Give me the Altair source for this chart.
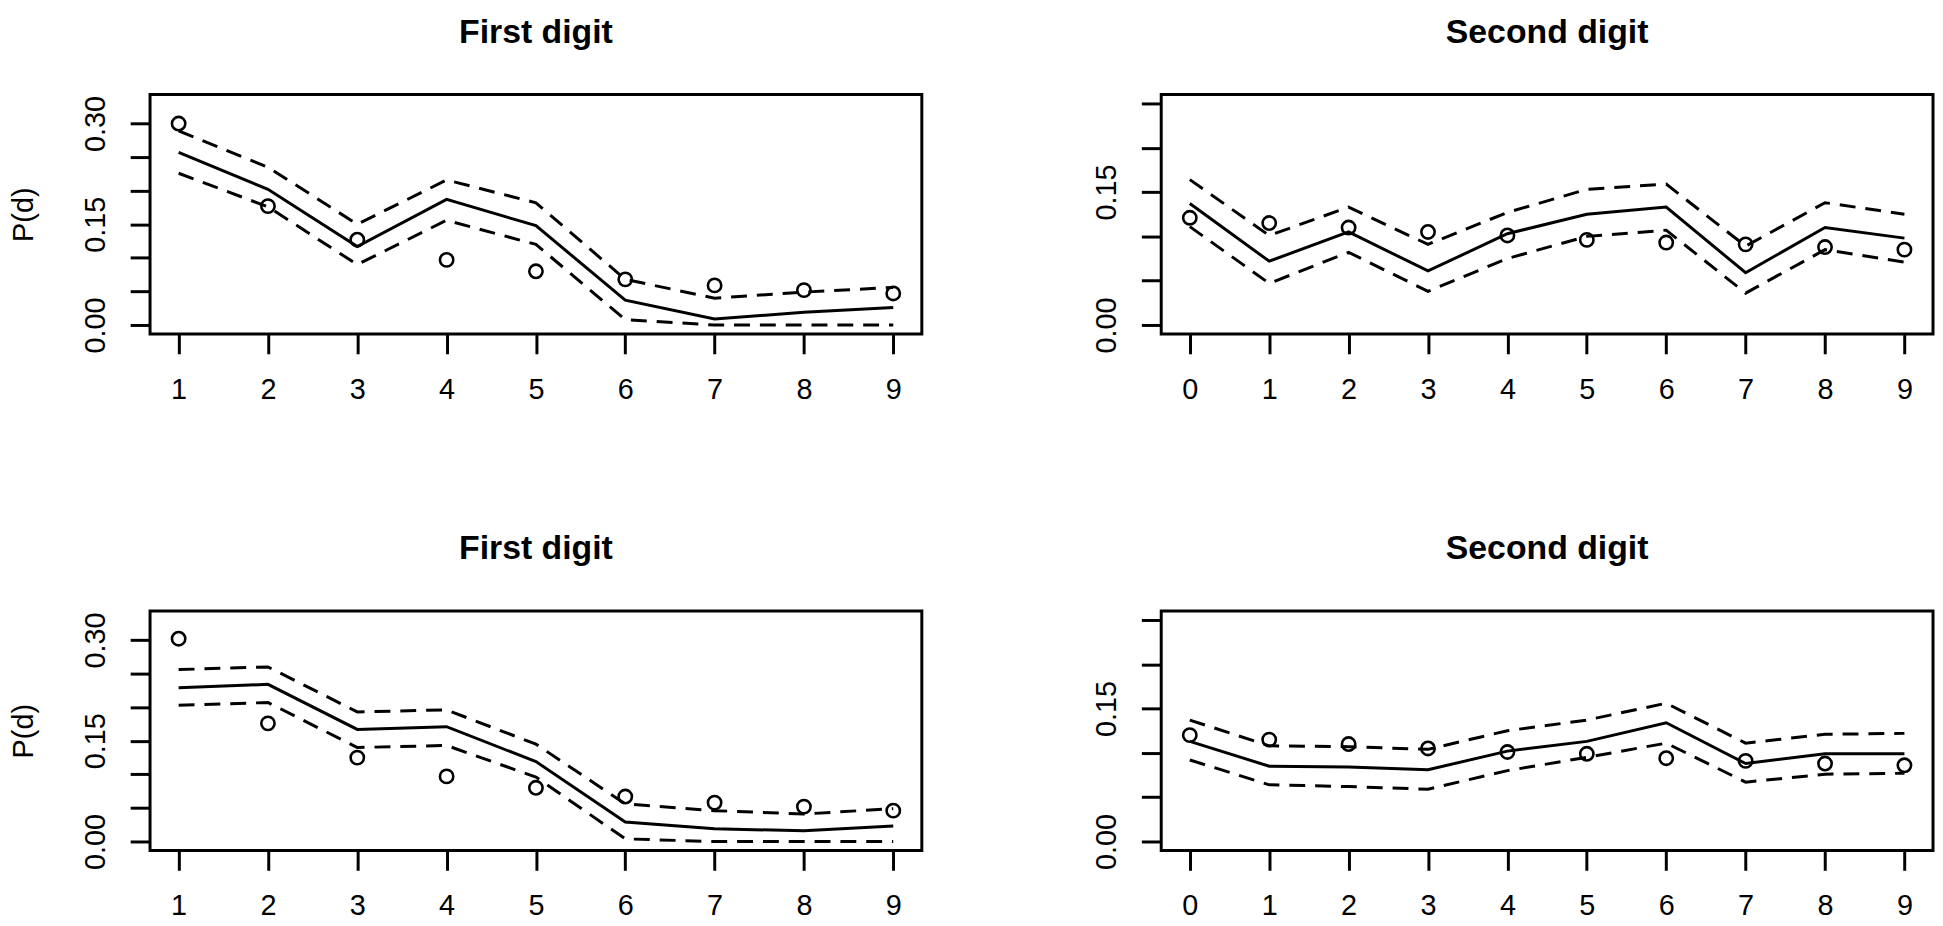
import altair as alt
import pandas as pd

first_digits = [1, 2, 3, 4, 5, 6, 7, 8, 9]
second_digits = [0, 1, 2, 3, 4, 5, 6, 7, 8, 9]

# Top-left: First digit
a_obs = [0.300, 0.177, 0.127, 0.097, 0.080, 0.068, 0.059, 0.052, 0.047]
a_mid = [0.257, 0.202, 0.117, 0.187, 0.148, 0.037, 0.009, 0.019, 0.026]
a_up = [0.289, 0.235, 0.150, 0.216, 0.182, 0.068, 0.040, 0.049, 0.056]
a_lo = [0.226, 0.176, 0.090, 0.156, 0.120, 0.008, 0.000, 0.000, 0.000]

# Top-right: Second digit
b_obs = [0.121, 0.115, 0.110, 0.105, 0.101, 0.096, 0.093, 0.091, 0.088, 0.085]
b_mid = [0.137, 0.072, 0.105, 0.061, 0.103, 0.125, 0.133, 0.059, 0.110, 0.098]
b_up = [0.164, 0.101, 0.133, 0.091, 0.127, 0.153, 0.159, 0.089, 0.138, 0.125]
b_lo = [0.111, 0.047, 0.082, 0.038, 0.075, 0.100, 0.107, 0.036, 0.085, 0.071]

# Bottom-left: First digit
c_obs = [0.302, 0.176, 0.125, 0.097, 0.080, 0.067, 0.058, 0.052, 0.046]
c_mid = [0.229, 0.234, 0.167, 0.171, 0.119, 0.029, 0.019, 0.016, 0.023]
c_up = [0.256, 0.260, 0.193, 0.196, 0.145, 0.056, 0.046, 0.041, 0.049]
c_lo = [0.203, 0.207, 0.140, 0.143, 0.096, 0.004, 0.000, 0.000, 0.000]

# Bottom-right: Second digit
d_obs = [0.120, 0.115, 0.110, 0.105, 0.101, 0.099, 0.094, 0.091, 0.088, 0.086]
d_mid = [0.113, 0.085, 0.084, 0.081, 0.102, 0.113, 0.134, 0.088, 0.099, 0.099]
d_up = [0.137, 0.108, 0.107, 0.104, 0.125, 0.137, 0.156, 0.111, 0.121, 0.122]
d_lo = [0.092, 0.064, 0.062, 0.059, 0.080, 0.095, 0.111, 0.067, 0.076, 0.077]

titles = ["First digit", "Second digit", "First digit", "Second digit"]
first_yticks = [0.0, 0.05, 0.10, 0.15, 0.20, 0.25, 0.30]
second_yticks = [0.0, 0.05, 0.10, 0.15, 0.20, 0.25]

PW, PH = 777, 241
FONT = "Liberation Sans"
LW = 3.0
DASH = [16, 10]

label_expr = ("(abs(datum.value) < 1e-9 || abs(datum.value - 0.15) < 1e-9 || "
              "abs(datum.value - 0.3) < 1e-9) ? format(datum.value, '.2f') : ''")


def panel(digits, obs, mid, up, lo, title, xdom, ydom, yticks, ytitle):
    df = pd.DataFrame({"d": digits, "obs": obs, "mid": mid, "up": up, "lo": lo})
    xenc = alt.X(
        "d:Q",
        scale=alt.Scale(domain=xdom, nice=False, zero=False),
        axis=alt.Axis(values=digits, format="d", labelBaseline="top",
                      labelAlign="center", labelPadding=22),
        title=None,
    )
    yaxis_kwargs = dict(values=yticks, labelExpr=label_expr, labelAngle=270,
                        labelAlign="center", labelBaseline="bottom",
                        labelPadding=20)
    if ytitle:
        yaxis_kwargs.update(titleAngle=270, titleX=-127, titleY=PH / 2,
                            titleAlign="center", titleBaseline="middle",
                            titleFontSize=29, titleFontWeight="normal",
                            titleFont=FONT, titleColor="black")

    def yenc(field):
        return alt.Y(
            f"{field}:Q",
            scale=alt.Scale(domain=ydom, nice=False, zero=False),
            axis=alt.Axis(**yaxis_kwargs),
            title=ytitle if ytitle else None,
        )

    base = alt.Chart(df)
    mid_line = base.mark_line(color="black", strokeWidth=LW).encode(x=xenc, y=yenc("mid"))
    up_line = base.mark_line(color="black", strokeWidth=LW, strokeDash=DASH).encode(x=xenc, y=yenc("up"))
    lo_line = base.mark_line(color="black", strokeWidth=LW, strokeDash=DASH).encode(x=xenc, y=yenc("lo"))
    pts = base.mark_point(shape="circle", filled=False, color="black", size=180,
                          strokeWidth=2.6, opacity=1).encode(x=xenc, y=yenc("obs"))
    return alt.layer(mid_line, up_line, lo_line, pts).properties(
        width=PW, height=PH,
        title=alt.TitleParams(text=title, font=FONT, fontSize=34, fontWeight="bold",
                              anchor="middle", baseline="alphabetic", offset=18,
                              color="black"),
    )


first_xdom = [0.68, 9.32]
second_xdom = [-0.36, 9.36]
first_ydom = [-0.0132, 0.3432]
second_ydom = [-0.01, 0.26]

p1 = panel(first_digits, a_obs, a_mid, a_up, a_lo, titles[0], first_xdom, first_ydom, first_yticks, "P(d)")
p2 = panel(second_digits, b_obs, b_mid, b_up, b_lo, titles[1], second_xdom, second_ydom, second_yticks, None)
p3 = panel(first_digits, c_obs, c_mid, c_up, c_lo, titles[2], first_xdom, first_ydom, first_yticks, "P(d)")
p4 = panel(second_digits, d_obs, d_mid, d_up, d_lo, titles[3], second_xdom, second_ydom, second_yticks, None)

chart = alt.concat(
    p1, p2, p3, p4, columns=2, spacing={"row": 279, "column": 241}, bounds="flush"
).properties(
    padding={"left": 0, "top": 3, "right": 0, "bottom": 0},
    background="white",
).configure_view(
    stroke="black", strokeWidth=LW
).configure_axis(
    domain=False, grid=False, ticks=True, tickColor="black", tickWidth=LW, tickSize=20,
    labelFont=FONT, labelFontSize=29, labelColor="black", labelOverlap=False,
    labelFlush=False
)

chart.save("out.html", embed_options={"renderer": "svg", "actions": False})
